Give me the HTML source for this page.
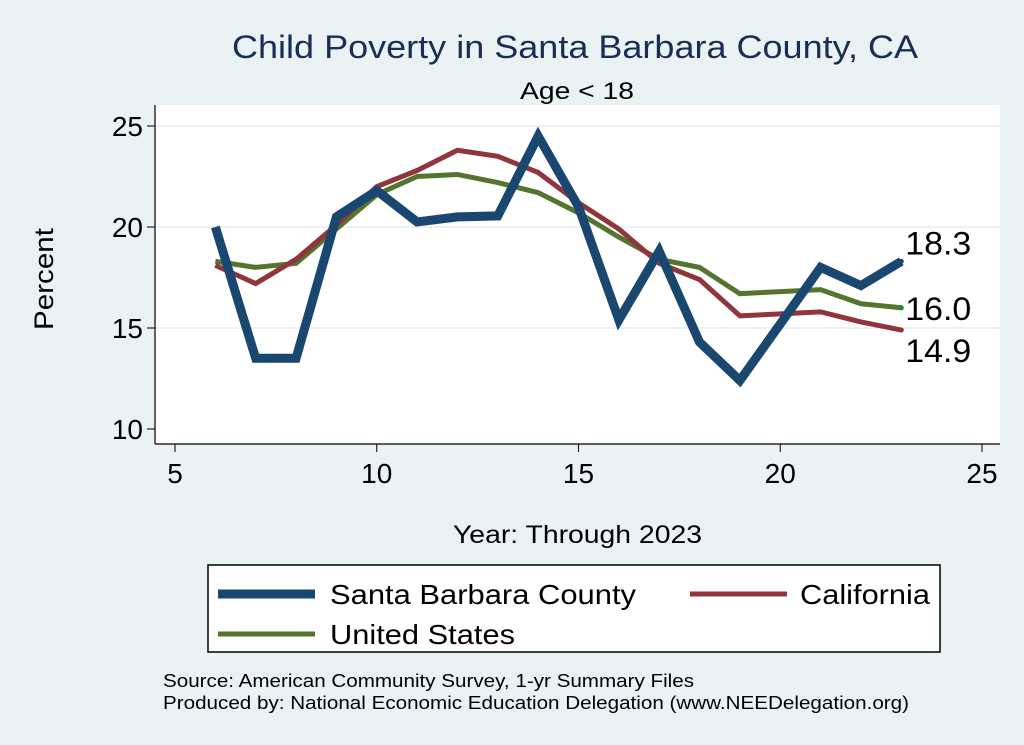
<!DOCTYPE html>
<html><head><meta charset="utf-8"><style>
body{margin:0;background:#eaf2f3;}
svg{display:block;font-family:"Liberation Sans",Arial,sans-serif;}
</style></head><body>
<svg width="1024" height="745" viewBox="0 0 1024 745">
<rect x="0" y="0" width="1024" height="745" fill="#eaf2f3"/>
<rect x="155" y="105" width="845" height="339" fill="#ffffff"/>
<text x="232" y="58" font-size="32" fill="#1a2e55" textLength="686" lengthAdjust="spacingAndGlyphs">Child Poverty in Santa Barbara County, CA</text>
<text x="520" y="99" font-size="24" textLength="114" lengthAdjust="spacingAndGlyphs">Age &lt; 18</text>
<g id="grid"></g>
<g id="axes"></g>
<g id="series"></g>
<text transform="translate(53,330) rotate(-90)" font-size="27" textLength="102" lengthAdjust="spacingAndGlyphs">Percent</text>
<text x="453" y="543" font-size="25" textLength="249" lengthAdjust="spacingAndGlyphs">Year: Through 2023</text>
<g>
<rect x="208" y="565" width="732" height="87" fill="#fff" stroke="#000" stroke-width="1.5"/>
<g><line x1="218" y1="594" x2="315" y2="594" stroke="#1a476f" stroke-width="9"/><text x="330" y="604" font-size="28" textLength="306" lengthAdjust="spacingAndGlyphs">Santa Barbara County</text></g>
<g><line x1="690" y1="594" x2="787" y2="594" stroke="#90353b" stroke-width="5"/><text x="800" y="604" font-size="28" textLength="130" lengthAdjust="spacingAndGlyphs">California</text></g>
<g><line x1="218" y1="634" x2="315" y2="634" stroke="#55752f" stroke-width="5"/><text x="330" y="644" font-size="28" textLength="185" lengthAdjust="spacingAndGlyphs">United States</text></g>
</g>
<text x="163" y="687" font-size="18" textLength="531" lengthAdjust="spacingAndGlyphs">Source: American Community Survey, 1-yr Summary Files</text>
<text x="163" y="709" font-size="18" textLength="746" lengthAdjust="spacingAndGlyphs">Produced by: National Economic Education Delegation (www.NEEDelegation.org)</text>
</svg>
<script>
const years=[6,7,8,9,10,11,12,13,14,15,16,17,18,19,20,21,22,23];
const sbValues=[20.0,13.5,13.5,20.5,21.8,20.25,20.5,20.55,24.5,21.0,15.4,18.8,14.3,12.4,15.2,18.0,17.1,18.3];
const caValues=[18.1,17.2,18.4,20.1,22.0,22.8,23.8,23.5,22.7,21.2,19.9,18.2,17.4,15.6,15.7,15.8,15.3,14.9];
const usValues=[18.3,18.0,18.2,19.9,21.6,22.5,22.6,22.2,21.7,20.7,19.5,18.4,18.0,16.7,16.8,16.9,16.2,16.0];
const xTicks=[5,10,15,20,25];
const yTicks=[10,15,20,25];
const ns="http://www.w3.org/2000/svg";
function xs(v){return 175+(v-5)*(807/20);}
function ys(v){return 429-(v-10)*(303/15);}
function mk(t,a,p){const e=document.createElementNS(ns,t);for(const k in a)e.setAttribute(k,a[k]);p.appendChild(e);return e;}
const grid=document.getElementById('grid'),axes=document.getElementById('axes'),ser=document.getElementById('series');
mk('line',{x1:155,y1:105,x2:155,y2:444,stroke:'#000','stroke-width':1.2},axes);
mk('line',{x1:155,y1:444,x2:1000,y2:444,stroke:'#000','stroke-width':1.2},axes);
yTicks.forEach(v=>{
 if(v>10){const g=mk('line',{x1:155,y1:ys(v),x2:1000,y2:ys(v),stroke:'#e6eeee','stroke-width':1.5},grid);
 }
 mk('line',{x1:147,y1:ys(v),x2:155,y2:ys(v),stroke:'#000'},axes);
 const t=mk('text',{x:143,y:ys(v)+10,'font-size':28,'text-anchor':'end'},axes);t.textContent=v;
 
 
});
xTicks.forEach(v=>{
 mk('line',{x1:xs(v),y1:444,x2:xs(v),y2:452,stroke:'#000'},axes);
 const t=mk('text',{x:xs(v),y:483,'font-size':28,'text-anchor':'middle'},axes);t.textContent=v;
 
 
});
function draw(vals,color,w,name,dy,lc){
 const d=vals.map((v,i)=>(i?'L':'M')+xs(years[i])+','+ys(v)).join(' ');
 const p=mk('path',{d:d,fill:'none',stroke:color,'stroke-width':w,'stroke-linejoin':'miter'},ser);
 
 
 const n=vals.length-1;
 mk('circle',{cx:xs(years[n]),cy:ys(vals[n]),r:2.5,fill:lc},ser);
 const t=mk('text',{x:xs(years[n])+4,y:ys(vals[n])+dy,'font-size':32,textLength:66,lengthAdjust:'spacingAndGlyphs'},ser);t.textContent=vals[n].toFixed(1);
 
 
}
draw(usValues,'#55752f',5,'line-united-states',12,'#1a8a1a');
draw(caValues,'#90353b',5,'line-california',32,'#90353b');
draw(sbValues,'#1a476f',9,'line-santa-barbara',-7,'#1a476f');
</script>
</body></html>
